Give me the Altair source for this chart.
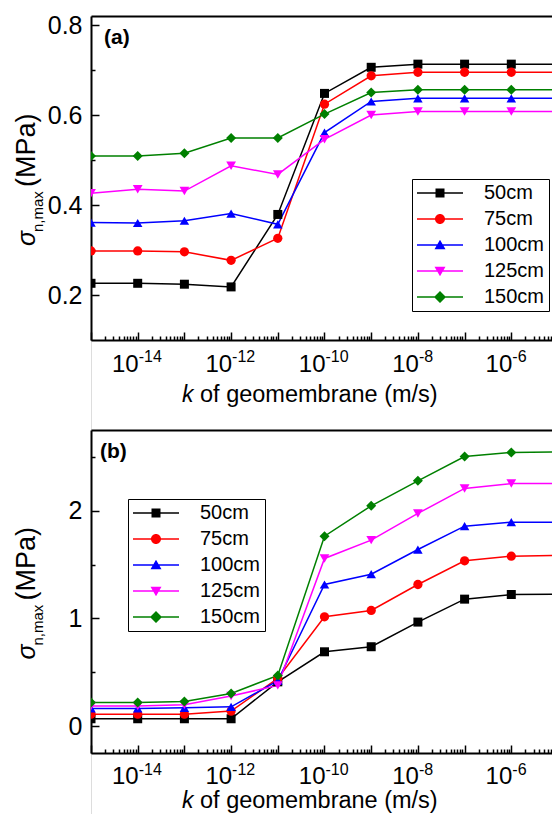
import altair as alt
import pandas as pd

# ---------------- data ----------------
k_values = [1e-15, 1e-14, 1e-13, 1e-12, 1e-11, 1e-10, 1e-9, 1e-8, 1e-7, 1e-6, 1e-5]
series = ["50cm", "75cm", "100cm", "125cm", "150cm"]
colors = ["#000000", "#ff0000", "#0000ff", "#ff00ff", "#008000"]

a_50 = [0.226, 0.226, 0.224, 0.218, 0.379, 0.648, 0.706, 0.713, 0.713, 0.713, 0.713]
a_75 = [0.298, 0.298, 0.296, 0.277, 0.326, 0.624, 0.687, 0.695, 0.695, 0.695, 0.695]
a_100 = [0.361, 0.360, 0.365, 0.381, 0.357, 0.561, 0.630, 0.637, 0.637, 0.637, 0.637]
a_125 = [0.426, 0.435, 0.431, 0.487, 0.468, 0.546, 0.600, 0.608, 0.608, 0.608, 0.608]
a_150 = [0.509, 0.509, 0.515, 0.549, 0.549, 0.602, 0.650, 0.656, 0.656, 0.656, 0.656]

b_50 = [0.068, 0.068, 0.068, 0.068, 0.411, 0.690, 0.737, 0.966, 1.179, 1.222, 1.225]
b_75 = [0.111, 0.111, 0.111, 0.139, 0.443, 1.015, 1.074, 1.315, 1.535, 1.578, 1.585]
b_100 = [0.164, 0.164, 0.170, 0.179, 0.421, 1.315, 1.411, 1.640, 1.857, 1.894, 1.894]
b_125 = [0.186, 0.186, 0.198, 0.279, 0.378, 1.557, 1.727, 1.975, 2.207, 2.253, 2.253]
b_150 = [0.220, 0.220, 0.229, 0.303, 0.470, 1.764, 2.046, 2.278, 2.504, 2.541, 2.547]

# x tick labels (10^exp)
label_k = [1e-14, 1e-12, 1e-10, 1e-8, 1e-6]
label_exp = ["-14", "-12", "-10", "-8", "-6"]

# ---------------- styling ----------------
FONT = "Liberation Sans"
W = 461            # plot width (plot runs on to the right edge of the picture)
H_TOTAL = 798      # height of the single view that holds both panels
X_MAX = 7.44e-6    # keeps ~46.7 px per decade
marker_shapes = ["square", "circle", "triangle-up", "triangle-down", "diamond"]
marker_sizes = [81, 100, 121, 121, 140]
legend_paths = [
    "M-4.6,-0.15H4.6V0.15H-4.6Z M-0.9,-0.9H0.9V0.9H-0.9Z",
    "M-4.6,-0.15H4.6V0.15H-4.6Z M1,0A1,1 0 1,1 -1,0A1,1 0 1,1 1,0Z",
    "M-4.6,-0.15H4.6V0.15H-4.6Z M0,-1.05L1.1,0.85L-1.1,0.85Z",
    "M-4.6,-0.15H4.6V0.15H-4.6Z M-1.1,-0.85L1.1,-0.85L0,1.05Z",
    "M-4.6,-0.15H4.6V0.15H-4.6Z M0,-1.2L1.2,0L0,1.2L-1.2,0Z",
]

x_major = k_values
x_minor = [m * k for k in k_values[:-1] for m in range(2, 10)]

xs = alt.Scale(type="log", domain=[1e-15, X_MAX], nice=False)
cs = alt.Scale(domain=series, range=colors)


def long_df(cols):
    rows = []
    for s, vals in zip(series, cols):
        for k, v in zip(k_values, vals):
            rows.append({"k": k, "v": v, "series": s})
    return pd.DataFrame(rows)


def one():
    return pd.DataFrame({"_": [0]})


def txt(s, x, y, size=22, **kw):
    return alt.Chart(one()).mark_text(font=FONT, fontSize=size, color="black", **kw).encode(
        x=alt.value(x), y=alt.value(y), text=alt.value(s))


def panel(cols, y_domain, y_major, y_minor, y_fmt, top, bottom, tag, tag_x,
          lx, ly, title_base, lab_off):
    df = long_df(cols)
    ys = alt.Scale(domain=y_domain, range=[bottom, top], nice=False, zero=False)
    base = alt.Chart(df)

    tick_common = dict(labels=False, title=None, grid=False, tickColor="black",
                       tickWidth=1.5, domainColor="black", domainWidth=2)

    lines = base.mark_line(strokeWidth=1.5, clip=True).encode(
        x=alt.X("k:Q", scale=xs, axis=alt.Axis(orient="top", offset=-bottom, domain=True,
                                                ticks=True, tickSize=8, values=x_major,
                                                **tick_common)),
        y=alt.Y("v:Q", scale=ys, axis=alt.Axis(orient="right", offset=-W, domain=True,
                                                ticks=True, tickSize=8, values=y_major,
                                                **tick_common)),
        color=alt.Color("series:N", scale=cs, legend=None),
        detail="series:N",
    )

    points = base.mark_point(filled=True, opacity=1, clip=True, strokeWidth=0).encode(
        x=alt.X("k:Q", scale=xs, axis=alt.Axis(orient="top", offset=-bottom, domain=False,
                                                ticks=True, tickSize=4, values=x_minor,
                                                **tick_common)),
        y=alt.Y("v:Q", scale=ys, axis=alt.Axis(orient="right", offset=-W, domain=False,
                                                ticks=True, tickSize=4, values=y_minor,
                                                **tick_common)),
        color=alt.Color("series:N", scale=cs, legend=None),
        shape=alt.Shape("series:N", scale=alt.Scale(domain=series, range=marker_shapes), legend=None),
        size=alt.Size("series:N", scale=alt.Scale(domain=series, range=marker_sizes), legend=None),
    )

    leg = alt.Legend(title=None, orient="none", legendX=lx, legendY=ly, padding=4,
                     strokeColor="black", fillColor="white", labelFont=FONT,
                     labelFontSize=20, labelColor="black", symbolSize=100,
                     symbolOffset=14, labelOffset=34, rowPadding=6,
                     symbolStrokeWidth=0, symbolOpacity=1)

    legend_layer = base.transform_filter("false").mark_point(filled=True, opacity=1).encode(
        x=alt.X("k:Q", scale=xs, axis=alt.Axis(orient="top", offset=-top, domain=True,
                                                ticks=False, labels=False, title=None,
                                                grid=False, domainColor="black", domainWidth=2)),
        y=alt.Y("v:Q", scale=ys, axis=alt.Axis(orient="left", domain=False, ticks=False,
                                                labels=True, title=None, grid=False,
                                                values=y_major, format=y_fmt,
                                                labelPadding=9, labelFont=FONT,
                                                labelFontSize=25, labelColor="black")),
        color=alt.Color("series:N", scale=cs, legend=leg),
        shape=alt.Shape("series:N", scale=alt.Scale(domain=series, range=legend_paths), legend=leg),
    )

    lab_df = pd.DataFrame({"k": label_k, "e": label_exp})
    lab10 = alt.Chart(lab_df).mark_text(align="right", baseline="alphabetic", dx=1,
                                        font=FONT, fontSize=24, color="black").encode(
        x=alt.X("k:Q", scale=xs, axis=None), y=alt.value(bottom + lab_off), text=alt.value("10"))
    labexp = alt.Chart(lab_df).mark_text(align="left", baseline="alphabetic", dx=1,
                                         font=FONT, fontSize=16, color="black").encode(
        x=alt.X("k:Q", scale=xs, axis=None), y=alt.value(bottom + lab_off - 9.5), text="e:N")

    yc = (top + bottom) / 2
    texts = [
        txt(tag, tag_x, top + 28, size=21, fontWeight="bold", align="left", baseline="alphabetic"),
        txt("k", 91, title_base, size=23, fontStyle="italic", align="left", baseline="alphabetic"),
        txt("of geomembrane (m/s)", 109, title_base, size=23.5, align="left", baseline="alphabetic"),
        txt("\u03c3", -56, yc + 68, size=25, fontStyle="italic", align="left",
            baseline="alphabetic", angle=270),
        txt("n,max", -48, yc + 54, size=15, align="left", baseline="alphabetic", angle=270),
        txt("(MPa)", -56, yc + 9, size=27, align="left", baseline="alphabetic", angle=270),
    ]

    return [lines, points, legend_layer, lab10, labexp] + texts


layers_a = panel([a_50, a_75, a_100, a_125, a_150], [0.1, 0.82], [0.2, 0.4, 0.6, 0.8],
                 [0.3, 0.5, 0.7], ".1f", 0, 324, "(a)", 13, 321, 163, 386, 31.5)
layers_b = panel([b_50, b_75, b_100, b_125, b_150], [-0.25, 2.75], [0, 1, 2],
                 [0.5, 1.5, 2.5], "d", 414, 737, "(b)", 9, 37, 483, 792, 31)

chart = alt.layer(*layers_a, *layers_b).resolve_axis(
    x="independent", y="independent"
).resolve_scale(
    y="independent", color="independent", shape="independent", size="independent"
).properties(
    width=W, height=H_TOTAL,
    autosize=alt.AutoSizeParams(type="none"),
    padding={"left": 83, "top": 8, "right": 0, "bottom": 0},
).configure_view(stroke=None).configure_legend(
    labelFontSize=20, labelFont=FONT
).configure(font=FONT)

chart.save("out.html", embed_options={"renderer": "svg", "actions": False})
